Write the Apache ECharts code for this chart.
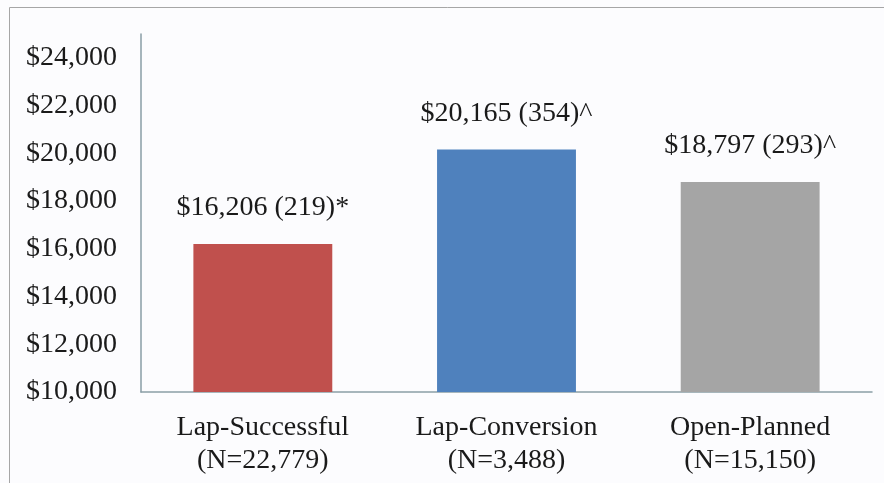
<!DOCTYPE html>
<html>
<head>
<meta charset="utf-8">
<script src="https://cdn.jsdelivr.net/npm/echarts@6/dist/echarts.min.js"></script>
<style>
html,body{margin:0;padding:0;background:#fcfcfe;}
#chart{width:884px;height:483px;}
</style>
</head>
<body>
<div id="chart"></div>
<script>
var categories = ['Lap-Successful', 'Lap-Conversion', 'Open-Planned'];
var sampleSizes = ['22,779', '3,488', '15,150'];
var costs = [16206, 20165, 18797];
var errors = [219, 354, 293];
var marks = ['*', '^', '^'];
var barColors = ['#C0504D', '#4F81BD', '#A5A5A5'];
var yMin = 10000, yMax = 25000, yStep = 2000;

function money(v) {
  return '$' + String(v).replace(/\B(?=(\d{3})+(?!\d))/g, ',');
}

var chart = echarts.init(document.getElementById('chart'));
var font = '"Liberation Serif", "Times New Roman", serif';
chart.setOption({
  backgroundColor: '#fcfcfe',
  animation: false,
  graphic: [{
    type: 'rect',
    shape: { x: 9.5, y: 7.5, width: 900, height: 500 },
    style: { fill: 'none', stroke: '#a6a6a6', lineWidth: 1 }
  }],
  grid: { left: 141, right: 12, top: 34, bottom: 91, containLabel: false },
  xAxis: {
    type: 'category',
    data: categories.map(function (c, i) { return c + '\n(N=' + sampleSizes[i] + ')'; }),
    axisLine: { lineStyle: { color: '#8a9ea6', width: 1.5 } },
    axisTick: { show: false },
    axisLabel: { color: '#1a1a1a', fontFamily: font, fontSize: 28, lineHeight: 33, margin: 19 }
  },
  yAxis: {
    type: 'value',
    min: yMin, max: yMax, interval: yStep,
    splitLine: { show: false },
    axisLine: { show: true, lineStyle: { color: '#8a9ea6', width: 1.5 } },
    axisTick: { show: false },
    axisLabel: {
      showMaxLabel: false,
      color: '#1a1a1a', fontFamily: font, fontSize: 28, margin: 24,
      formatter: function (v) { return v % yStep === 0 ? money(v) : ''; }
    }
  },
  series: [{
    type: 'bar',
    barWidth: '57%',
    data: costs.map(function (v, i) { return { value: v, itemStyle: { color: barColors[i] } }; }),
    label: {
      show: true, position: 'top', distance: 22,
      color: '#1a1a1a', fontFamily: font, fontSize: 28,
      formatter: function (p) {
        var i = p.dataIndex;
        return money(costs[i]) + ' (' + errors[i] + ')' + marks[i];
      }
    }
  }]
});
</script>
</body>
</html>
